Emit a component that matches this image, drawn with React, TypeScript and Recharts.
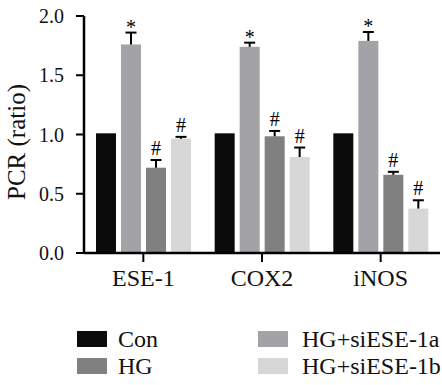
// @ts-nocheck
import React from "react";
import { BarChart, Bar, XAxis, YAxis, Legend } from "recharts";

const categories = ["ESE-1", "COX2", "iNOS"];

const conValues = [1.01, 1.01, 1.01];
const siAValues = [1.76, 1.74, 1.79];
const hgValues = [0.72, 0.985, 0.66];
const siBValues = [0.965, 0.81, 0.375];

const siAErrors = [0.1, 0.035, 0.075];
const hgErrors = [0.065, 0.045, 0.025];
const siBErrors = [0.015, 0.08, 0.07];

const siAMarks = ["*", "*", "*"];
const hgMarks = ["#", "#", "#"];
const siBMarks = ["#", "#", "#"];

const yTicks = [0, 0.5, 1.0, 1.5, 2.0];

const FONT = "'Liberation Serif', 'Times New Roman', serif";

const SERIES = [
  { key: "con", name: "Con", color: "#0b0b0b" },
  { key: "siA", name: "HG+siESE-1a", color: "#a3a3a7" },
  { key: "hg", name: "HG", color: "#808080" },
  { key: "siB", name: "HG+siESE-1b", color: "#d7d7d7" },
];

const data = categories.map((cat, i) => ({
  cat,
  con: conValues[i],
  siA: siAValues[i],
  hg: hgValues[i],
  siB: siBValues[i],
  siAErr: siAErrors[i],
  hgErr: hgErrors[i],
  siBErr: siBErrors[i],
  siAMark: siAMarks[i],
  hgMark: hgMarks[i],
  siBMark: siBMarks[i],
}));

// bar with an upward-only error bar and significance mark
const makeShape = (key, color) => (props) => {
  const { x, y, width, height, payload } = props;
  const val = payload[key];
  const err = payload[key + "Err"];
  const mark = payload[key + "Mark"];
  const cx = x + width / 2;
  const perUnit = val ? height / val : 0;
  const ey = err ? y - err * perUnit : y;
  return (
    <g>
      <rect x={x} y={y} width={width} height={height} fill={color} />
      {err ? (
        <g stroke="#000" strokeWidth={2}>
          <line x1={cx} y1={y} x2={cx} y2={ey} />
          <line x1={cx - 5.5} y1={ey} x2={cx + 5.5} y2={ey} />
        </g>
      ) : null}
      {mark ? (
        <text
          x={cx}
          y={mark === "*" ? ey + 1 : ey - 5}
          textAnchor="middle"
          fontSize={20}
          fontFamily={FONT}
          fill="#000"
        >
          {mark}
        </text>
      ) : null}
    </g>
  );
};

const legendRows = [
  [SERIES[0], SERIES[1]],
  [SERIES[2], SERIES[3]],
];

const renderLegend = () => (
  <div style={{ position: "relative", width: 442, height: 55, fontFamily: FONT, fontSize: 24 }}>
    {legendRows.map((row, r) =>
      row.map((s, c) => (
        <div
          key={s.key}
          style={{
            position: "absolute",
            left: c === 0 ? 77 : 258,
            top: r * 27,
            height: 16,
            display: "flex",
            alignItems: "center",
            whiteSpace: "nowrap",
          }}
        >
          <span style={{ display: "inline-block", width: 30, height: 16, background: s.color, marginRight: c === 0 ? 11 : 14 }} />
          <span style={{ color: "#111", lineHeight: "16px" }}>{s.name}</span>
        </div>
      ))
    )}
  </div>
);

const YLabel = () => (
  <text
    x={16}
    y={142}
    transform="rotate(-90, 16, 142)"
    textAnchor="middle"
    dominantBaseline="central"
    fontSize={25}
    fontFamily={FONT}
    fill="#111"
  >
    PCR (ratio)
  </text>
);

export default function App() {
  return (
    <div style={{ position: "absolute", left: 0, top: 0, background: "#fff" }}>
      <BarChart
        width={442}
        height={385}
        data={data}
        margin={{ top: 16, right: 2, left: 0, bottom: 47 }}
        barSize={20}
        barGap={5}
      >
        <XAxis
          dataKey="cat"
          height={30}
          tickSize={9}
          tickMargin={7}
          axisLine={{ stroke: "#000", strokeWidth: 2.5 }}
          tickLine={{ stroke: "#000", strokeWidth: 2 }}
          tick={{ fill: "#111", fontSize: 24, fontFamily: FONT }}
        />
        <YAxis
          width={84}
          domain={[0, 2]}
          ticks={yTicks}
          tickFormatter={(v) => v.toFixed(1)}
          tickSize={8}
          tickMargin={12}
          axisLine={{ stroke: "#000", strokeWidth: 2.5 }}
          tickLine={{ stroke: "#000", strokeWidth: 2 }}
          tick={{ fill: "#111", fontSize: 20, fontFamily: FONT }}
          label={<YLabel />}
        />
        <Legend
          content={renderLegend}
          wrapperStyle={{ left: 0, top: 331, bottom: "auto", width: 442, height: 55 }}
        />
        {SERIES.map((s) => (
          <Bar
            key={s.key}
            dataKey={s.key}
            name={s.name}
            fill={s.color}
            shape={makeShape(s.key, s.color)}
            isAnimationActive={false}
          />
        ))}
      </BarChart>
    </div>
  );
}
